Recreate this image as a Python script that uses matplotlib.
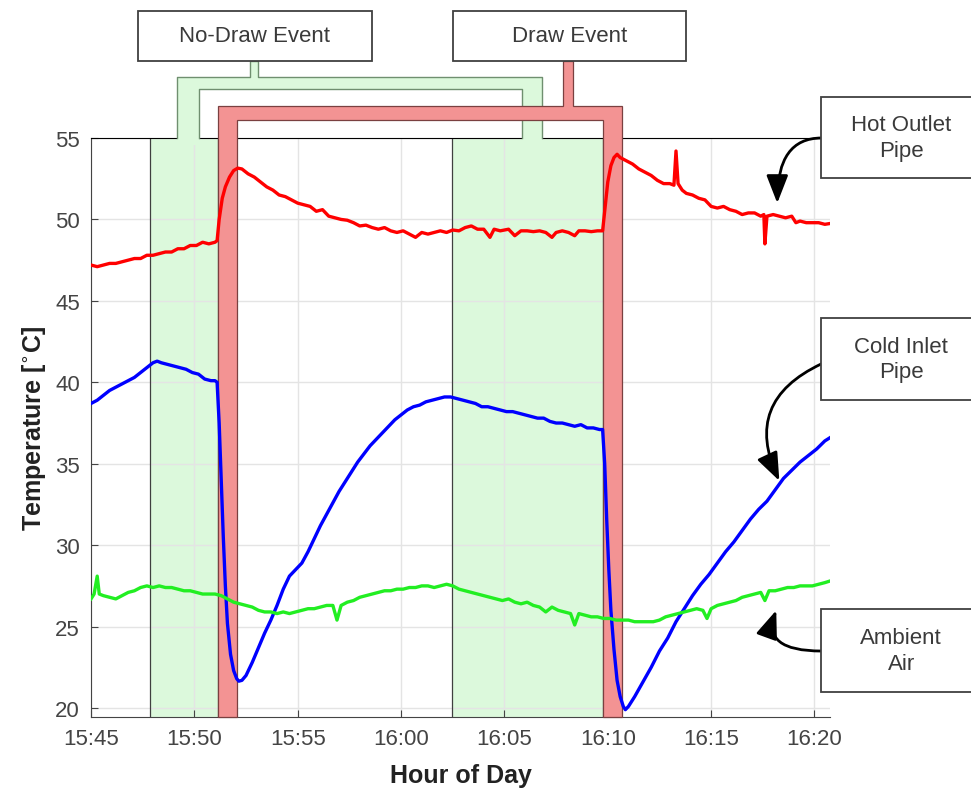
import matplotlib
matplotlib.use("Agg")
import matplotlib.pyplot as plt
from matplotlib.patches import Polygon, Rectangle

plt.rcParams["font.family"] = ["Liberation Sans", "DejaVu Sans"]

# minutes after 15:45
tick_min = [0, 5, 10, 15, 20, 25, 30, 35]
tick_lbl = ["15:45", "15:50", "15:55", "16:00", "16:05", "16:10", "16:15", "16:20"]
temp_ticks = [20, 25, 30, 35, 40, 45, 50, 55]

no_draw = [(2.85, 6.13), (17.44, 24.78)]
draw = [(6.13, 7.05), (24.78, 25.70)]

hot_t = [0.0, 0.3, 0.6, 0.9, 1.2, 1.5, 1.8, 2.1, 2.4, 2.7, 3.0, 3.3, 3.6, 3.9, 4.2,
         4.5, 4.8, 5.1, 5.4, 5.7, 6.0, 6.1, 6.2, 6.35, 6.5, 6.7, 6.9, 7.1, 7.3, 7.6,
         7.9, 8.2, 8.5, 8.8, 9.1, 9.4, 9.7, 10.0, 10.3, 10.6, 10.9, 11.2, 11.5, 11.8,
         12.1, 12.4, 12.7, 13.0, 13.3, 13.6, 13.9, 14.2, 14.5, 14.8, 15.1, 15.4, 15.7,
         16.0, 16.3, 16.6, 16.9, 17.2, 17.5, 17.8, 18.1, 18.4, 18.7, 19.0, 19.3, 19.5,
         19.8, 20.2, 20.5, 20.8, 21.1, 21.4, 21.7, 22.0, 22.3, 22.5, 22.8, 23.1, 23.4,
         23.6, 23.9, 24.2, 24.5, 24.75, 24.85, 25.0, 25.15, 25.3, 25.45, 25.6, 25.9,
         26.2, 26.5, 26.8, 27.1, 27.4, 27.7, 28.0, 28.2, 28.3, 28.4, 28.6, 28.8, 29.1,
         29.4, 29.7, 30.0, 30.3, 30.6, 30.9, 31.2, 31.5, 31.8, 32.1, 32.4, 32.55, 32.6,
         32.7, 33.0, 33.3, 33.6, 33.9, 34.1, 34.3, 34.6, 34.9, 35.2, 35.5, 35.75]
hot_T = [47.2, 47.1, 47.2, 47.3, 47.3, 47.4, 47.5, 47.6, 47.6, 47.8, 47.8, 47.9, 48.0, 48.0, 48.2,
         48.2, 48.4, 48.4, 48.6, 48.5, 48.6, 48.7, 50.0, 51.3, 52.0, 52.6, 53.0, 53.15, 53.1, 52.8,
         52.6, 52.3, 52.0, 51.8, 51.5, 51.4, 51.2, 51.0, 50.9, 50.8, 50.5, 50.6, 50.2, 50.1,
         50.0, 49.95, 49.8, 49.6, 49.65, 49.5, 49.4, 49.5, 49.3, 49.2, 49.3, 49.1, 48.9,
         49.2, 49.1, 49.2, 49.3, 49.2, 49.35, 49.3, 49.5, 49.6, 49.4, 49.4, 48.9, 49.4,
         49.3, 49.4, 49.0, 49.3, 49.3, 49.25, 49.3, 49.2, 48.9, 49.2, 49.3, 49.2, 49.0,
         49.3, 49.3, 49.25, 49.3, 49.3, 50.5, 52.3, 53.3, 53.8, 54.0, 53.8, 53.6,
         53.4, 53.1, 52.9, 52.7, 52.4, 52.2, 52.2, 52.1, 54.2, 52.2, 51.8, 51.6, 51.5,
         51.3, 51.2, 50.8, 50.7, 50.8, 50.6, 50.5, 50.3, 50.4, 50.4, 50.2, 50.3, 48.5,
         50.2, 50.3, 50.2, 50.1, 50.2, 49.8, 49.9, 49.8, 49.8, 49.8, 49.7, 49.75]

cold_t = [0.0, 0.3, 0.6, 0.9, 1.2, 1.5, 1.8, 2.1, 2.4, 2.7, 3.0, 3.2, 3.4, 3.7, 4.0,
          4.3, 4.6, 4.9, 5.2, 5.5, 5.8, 6.0, 6.1, 6.2, 6.3, 6.4, 6.5, 6.6, 6.75, 6.9,
          7.05, 7.15, 7.3, 7.5, 7.8, 8.1, 8.4, 8.7, 9.0, 9.3, 9.6, 9.9, 10.2, 10.5,
          10.8, 11.1, 11.4, 11.7, 12.0, 12.3, 12.6, 12.9, 13.2, 13.5, 13.8, 14.1, 14.4,
          14.7, 15.0, 15.3, 15.6, 15.9, 16.2, 16.5, 16.8, 17.1, 17.4, 17.7, 18.0, 18.3,
          18.6, 18.9, 19.2, 19.5, 19.8, 20.1, 20.4, 20.7, 21.0, 21.3, 21.6, 21.9, 22.2,
          22.5, 22.8, 23.1, 23.4, 23.7, 24.0, 24.3, 24.6, 24.75, 24.85, 24.95, 25.05,
          25.15, 25.3, 25.45, 25.6, 25.75, 25.85, 26.0, 26.3, 26.7, 27.1, 27.5, 27.9,
          28.3, 28.7, 29.1, 29.5, 29.9, 30.3, 30.7, 31.1, 31.5, 31.9, 32.3, 32.7, 33.1,
          33.5, 33.9, 34.3, 34.7, 35.1, 35.5, 35.75]
cold_T = [38.7, 38.9, 39.2, 39.5, 39.7, 39.9, 40.1, 40.3, 40.6, 40.9, 41.2, 41.3, 41.2, 41.1, 41.0,
          40.9, 40.8, 40.6, 40.5, 40.2, 40.1, 40.1, 40.0, 37.5, 34.0, 30.5, 27.5, 25.2, 23.3, 22.3,
          21.8, 21.65, 21.7, 22.0, 22.8, 23.7, 24.6, 25.4, 26.3, 27.3, 28.1, 28.5, 28.9, 29.6,
          30.4, 31.2, 31.9, 32.6, 33.3, 33.9, 34.5, 35.1, 35.6, 36.1, 36.5, 36.9, 37.3,
          37.7, 38.0, 38.3, 38.5, 38.6, 38.8, 38.9, 39.0, 39.1, 39.1, 39.0, 38.9, 38.8,
          38.7, 38.5, 38.5, 38.4, 38.3, 38.2, 38.2, 38.1, 38.0, 37.9, 37.8, 37.8, 37.6,
          37.5, 37.5, 37.4, 37.3, 37.4, 37.2, 37.2, 37.1, 37.1, 35.0, 31.5, 28.5,
          26.0, 23.6, 21.7, 20.7, 20.1, 19.9, 20.1, 20.7, 21.6, 22.5, 23.5, 24.3,
          25.3, 26.1, 26.9, 27.6, 28.2, 28.9, 29.6, 30.2, 30.9, 31.6, 32.2, 32.7, 33.4,
          34.1, 34.6, 35.1, 35.5, 35.9, 36.4, 36.6]

amb_t = [0.0, 0.15, 0.3, 0.4, 0.6, 0.9, 1.2, 1.5, 1.8, 2.1, 2.4, 2.7, 3.0, 3.3, 3.6,
         3.9, 4.2, 4.5, 4.8, 5.1, 5.4, 5.7, 6.0, 6.3, 6.6, 6.9, 7.2, 7.5, 7.8, 8.1, 8.4,
         8.7, 9.0, 9.3, 9.6, 9.9, 10.2, 10.5, 10.8, 11.1, 11.4, 11.7, 11.9, 12.1, 12.4,
         12.7, 13.0, 13.3, 13.6, 13.9, 14.2, 14.5, 14.8, 15.1, 15.4, 15.7, 16.0, 16.3,
         16.6, 16.9, 17.2, 17.5, 17.8, 18.1, 18.4, 18.7, 19.0, 19.3, 19.6, 19.9, 20.2,
         20.5, 20.8, 21.1, 21.4, 21.7, 22.0, 22.3, 22.6, 22.9, 23.2, 23.4, 23.6, 23.9,
         24.2, 24.5, 24.8, 25.1, 25.4, 25.7, 26.0, 26.3, 26.6, 26.9, 27.2, 27.5, 27.8,
         28.1, 28.4, 28.7, 29.0, 29.3, 29.6, 29.8, 30.0, 30.3, 30.6, 30.9, 31.2, 31.5,
         31.8, 32.1, 32.4, 32.6, 32.8, 33.1, 33.4, 33.7, 34.0, 34.3, 34.6, 34.9, 35.2,
         35.5, 35.75]
amb_T = [26.7, 27.0, 28.1, 27.0, 26.9, 26.8, 26.7, 26.9, 27.1, 27.2, 27.4, 27.5, 27.4, 27.5, 27.4,
         27.4, 27.3, 27.2, 27.2, 27.1, 27.0, 27.0, 27.0, 26.9, 26.7, 26.5, 26.4, 26.3, 26.2, 26.0, 25.9,
         25.9, 25.8, 25.9, 25.8, 25.9, 26.0, 26.1, 26.1, 26.2, 26.3, 26.3, 25.4, 26.3, 26.5,
         26.6, 26.8, 26.9, 27.0, 27.1, 27.2, 27.2, 27.3, 27.3, 27.4, 27.4, 27.5, 27.5,
         27.4, 27.5, 27.6, 27.5, 27.3, 27.2, 27.1, 27.0, 26.9, 26.8, 26.7, 26.6, 26.7,
         26.5, 26.4, 26.5, 26.3, 26.2, 25.9, 26.2, 26.0, 25.9, 25.8, 25.1, 25.8, 25.7,
         25.6, 25.6, 25.5, 25.5, 25.4, 25.4, 25.4, 25.3, 25.3, 25.3, 25.3, 25.4, 25.6,
         25.7, 25.8, 25.9, 26.0, 26.1, 26.0, 25.5, 26.1, 26.3, 26.4, 26.5, 26.6, 26.8,
         26.9, 27.0, 27.1, 26.6, 27.2, 27.2, 27.3, 27.4, 27.4, 27.5, 27.5, 27.5, 27.6,
         27.7, 27.8]

XMAX, YMIN, YMAX = 35.75, 19.45, 55.0
GREEN, GREEN_EDGE = "#dcf9dc", "#6f8f6f"
RED, RED_EDGE = "#f39393", "#7a4040"
TXT = "#3a3a3a"

fig = plt.figure(figsize=(9.71, 8.04), dpi=100)
ax = fig.add_axes([91 / 971, 1 - 718 / 804, 739 / 971, 579 / 804])
ax.set_xlim(0, XMAX)
ax.set_ylim(YMIN, YMAX)

# no-draw shading and its bracket above the axes
for a, b in no_draw:
    ax.axvspan(a, b, color=GREEN, lw=0, zorder=0.5)
    ax.axvline(a, color="#404040", lw=0.9, zorder=0.6)
    ax.axvline(b, color="#404040", lw=0.9, zorder=0.6)

gl, gr = (4.16, 5.22), (20.83, 21.80)
g_top, g_in, g_stem = 58.74, 58.0, (7.68, 8.07)
box_bot, box_top = 59.73, 62.8
g_outline = [(gl[0], YMAX), (gl[0], g_top), (g_stem[0], g_top), (g_stem[0], box_bot),
             (g_stem[1], box_bot), (g_stem[1], g_top), (gr[1], g_top), (gr[1], YMAX)]
g_inner = [(gr[0], YMAX), (gr[0], g_in), (gl[1], g_in), (gl[1], YMAX)]
# fill dips a little into the axes so it hides the top spine under the legs
g_fill = ([(gl[0], 54.6)] + g_outline + [(gr[1], 54.6), (gr[0], 54.6)]
          + g_inner + [(gl[1], 54.6)])
ax.add_patch(Polygon(g_fill, closed=True, fc=GREEN, ec="none", clip_on=False, zorder=4))
ax.plot(*zip(*g_outline), color=GREEN_EDGE, lw=1.0, clip_on=False, zorder=4.1)
ax.plot(*zip(*g_inner), color=GREEN_EDGE, lw=1.0, clip_on=False, zorder=4.1)

# draw-event bars joined by a bracket
r_top, r_in, r_stem = 56.96, 56.1, (22.81, 23.30)
(d1a, d1b), (d2a, d2b) = draw
r_poly = [(d1a, YMIN), (d1a, r_top), (r_stem[0], r_top), (r_stem[0], box_bot),
          (r_stem[1], box_bot), (r_stem[1], r_top), (d2b, r_top), (d2b, YMIN),
          (d2a, YMIN), (d2a, r_in), (d1b, r_in), (d1b, YMIN)]
ax.add_patch(Polygon(r_poly, closed=True, fc=RED, ec=RED_EDGE, lw=0.9,
                     clip_on=False, zorder=5))

# curves
ax.plot(hot_t, hot_T, color="#ff0000", lw=2.4, zorder=6)
ax.plot(cold_t, cold_T, color="#0000ff", lw=2.4, zorder=6)
ax.plot(amb_t, amb_T, color="#22ee22", lw=2.4, zorder=6)

# event label boxes
for (x0, x1), label in [((2.27, 13.58), "No-Draw Event"), ((17.5, 28.76), "Draw Event")]:
    ax.add_patch(Rectangle((x0, box_bot), x1 - x0, box_top - box_bot, fc="white",
                           ec="#404040", lw=1.3, clip_on=False, zorder=7))
    ax.text((x0 + x1) / 2, (box_bot + box_top) / 2, label, ha="center", va="center",
            fontsize=16, color=TXT, zorder=8, clip_on=False)

# series label boxes with curved arrows
series_boxes = [
    ("Hot Outlet\nPipe", (52.54, 57.5), (35.33, 55.0), (33.2, 51.0), "angle3,angleA=0,angleB=90"),
    ("Cold Inlet\nPipe", (38.92, 43.95), (35.33, 41.13), (33.3, 33.95), "arc3,rad=0.5"),
    ("Ambient\nAir", (20.99, 26.09), (35.33, 23.5), (33.15, 26.0), "angle3,angleA=0,angleB=70"),
]
for label, (y0, y1), start, tip, conn in series_boxes:
    ax.annotate("", xy=tip, xytext=start, annotation_clip=False, zorder=8,
                arrowprops=dict(arrowstyle="-|>,head_length=0.9,head_width=0.35",
                                mutation_scale=19, color="black", lw=2.0,
                                connectionstyle=conn, shrinkA=0, shrinkB=0))
    ax.add_patch(Rectangle((35.33, y0), 7.7, y1 - y0, fc="white", ec="#404040", lw=1.3,
                           clip_on=False, zorder=9))
    ax.text(39.2, (y0 + y1) / 2, label, ha="center", va="center", fontsize=16,
            color=TXT, zorder=10, clip_on=False, linespacing=1.3)

ax.set_xticks(tick_min)
ax.set_xticklabels(tick_lbl)
ax.set_yticks(temp_ticks)
ax.grid(True, color="#e4e4e4", lw=1.0, zorder=0)
ax.set_axisbelow(True)
ax.tick_params(direction="in", length=5, labelsize=16, labelcolor="#444444",
               color="#444444", pad=8)
for s in ["left", "bottom"]:
    ax.spines[s].set_color("#444444")
ax.spines["top"].set_color("black")
ax.spines["right"].set_visible(False)

ax.set_xlabel("Hour of Day", fontsize=18, fontweight="bold", color="#222222", labelpad=10)
ax.set_ylabel(r"Temperature [$^{\circ}$C]", fontsize=18, fontweight="bold",
              color="#222222", labelpad=5)

fig.savefig("out.png", dpi=100)
